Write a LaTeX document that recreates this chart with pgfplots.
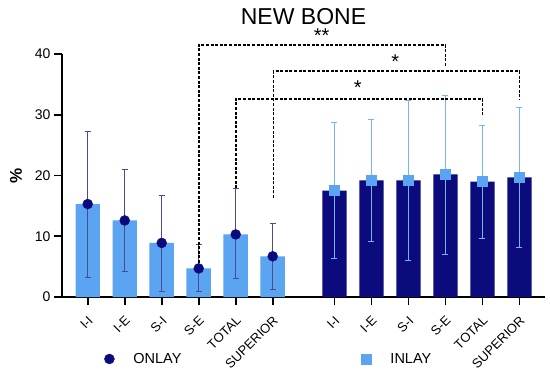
\documentclass[border=0pt]{standalone}
\usepackage{fontspec}
\setmainfont{Liberation Sans}
\usepackage{pgfplots}
\pgfplotsset{compat=1.18}
\usepackage{pgfplotstable}
\definecolor{lb}{HTML}{5BA4F2}
\definecolor{navy}{HTML}{0B0B7E}
\definecolor{errL}{HTML}{4B4B8F}
\definecolor{errR}{HTML}{79B2F0}

\pgfplotstableread{
x y ep em
0 15.3 12.0 12.1
1 12.6 8.5 8.4
2 8.9 7.85 7.9
3 4.7 3.9 3.7
4 10.3 7.6 7.3
5 6.7 5.5 5.4
}\onlay

\pgfplotstableread{
x y ep em
6.67 17.5 11.2 11.2
7.67 19.2 10.1 10.0
8.67 19.2 13.2 13.2
9.67 20.2 13.0 13.1
10.67 19.0 9.3 9.3
11.67 19.7 11.6 11.6
}\inlay

\pgfplotsset{mylegimg/.style={legend image code/.code={\path[draw=none, fill=none] (0bp,0bp) -- (30bp,0bp); \draw[##1, only marks] plot coordinates {(8bp,0bp)};}}}

\begin{document}
\begin{tikzpicture}
\begin{axis}[
  at={(62bp,76bp)}, anchor=south west,
  scale only axis, width=483bp, height=243bp,
  xmin=-0.695, xmax=12.36, ymin=0, ymax=40,
  clip=false,
  axis lines*=left,
  axis line style={-, line width=1.6bp, black},
  tick align=outside,
  major tick length=8bp,
  tick style={black, line width=1.6bp},
  ytick={0,10,20,30,40},
  xtick={0,1,2,3,4,5,6.67,7.67,8.67,9.67,10.67,11.67},
  xticklabels={I-I,I-E,S-I,S-E,TOTAL,SUPERIOR,I-I,I-E,S-I,S-E,TOTAL,SUPERIOR},
  xticklabel style={rotate=45, anchor=east, xshift=-4bp, yshift=-11.5bp, font=\fontsize{13bp}{15bp}\selectfont},
  yticklabel style={font=\fontsize{14bp}{16bp}\selectfont},
  /pgf/number format/assume math mode=true,
  ylabel={\textbf{\%}},
  ylabel style={at={(axis description cs:-0.095,0.5)}, anchor=center, font=\fontsize{17bp}{19bp}\selectfont},
  title={NEW BONE},
  title style={at={(axis description cs:0.5,1.095)}, anchor=base, font=\fontsize{23bp}{25bp}\selectfont},
  legend columns=2,
  legend style={at={(axis description cs:0.075,-0.255)}, anchor=west, draw=none, fill=none,
    font=\fontsize{14.5bp}{16bp}\selectfont,
    /tikz/every even column/.append style={column sep=175bp}},
]
\addplot[ybar, bar width=0.66, bar shift=0pt, fill=lb, draw=none, forget plot] table[x=x,y=y]{\onlay};
\addplot[ybar, bar width=0.66, bar shift=0pt, fill=navy, draw=none, forget plot] table[x=x,y=y]{\inlay};
\addplot[only marks, mylegimg, mark=*, mark size=5bp, navy,
  error bars/.cd, y dir=both, y explicit,
  error bar style={errL, line width=0.6bp},
  error mark options={rotate=90, errL, mark size=3bp, line width=0.6bp}]
  table[x=x, y=y, y error plus=ep, y error minus=em]{\onlay};
\addlegendentry{ONLAY}
\addplot[only marks, mylegimg, mark=square*, mark size=5bp, lb,
  error bars/.cd, y dir=both, y explicit,
  error bar style={errR, line width=0.6bp},
  error mark options={rotate=90, errR, mark size=3bp, line width=0.6bp}]
  table[x=x, y=y, y error plus=ep, y error minus=em]{\inlay};
\addlegendentry{INLAY}
% significance brackets
\draw[line width=1.8bp, dash pattern=on 3bp off 1.6bp, black] (3,5.6) -- (3,41.5) -- (9.67,41.5) -- (9.67,37.9);
\draw[line width=1.8bp, dash pattern=on 3bp off 1.6bp, black] (5.02,16.3) -- (5.02,37.15) -- (11.67,37.15) -- (11.67,32.6);
\draw[line width=1.8bp, dash pattern=on 3bp off 1.6bp, black] (4,17.9) -- (4,32.6) -- (10.67,32.6) -- (10.67,30.0);
\node[font=\fontsize{20bp}{22bp}\selectfont] at (6.32,43.1) {**};
\node[font=\fontsize{20bp}{22bp}\selectfont] at (8.31,38.7) {*};
\node[font=\fontsize{20bp}{22bp}\selectfont] at (7.3,34.4) {*};
\end{axis}
\pgfresetboundingbox
\path[use as bounding box] (0,0) rectangle (550bp,373bp);
\end{tikzpicture}
\end{document}
